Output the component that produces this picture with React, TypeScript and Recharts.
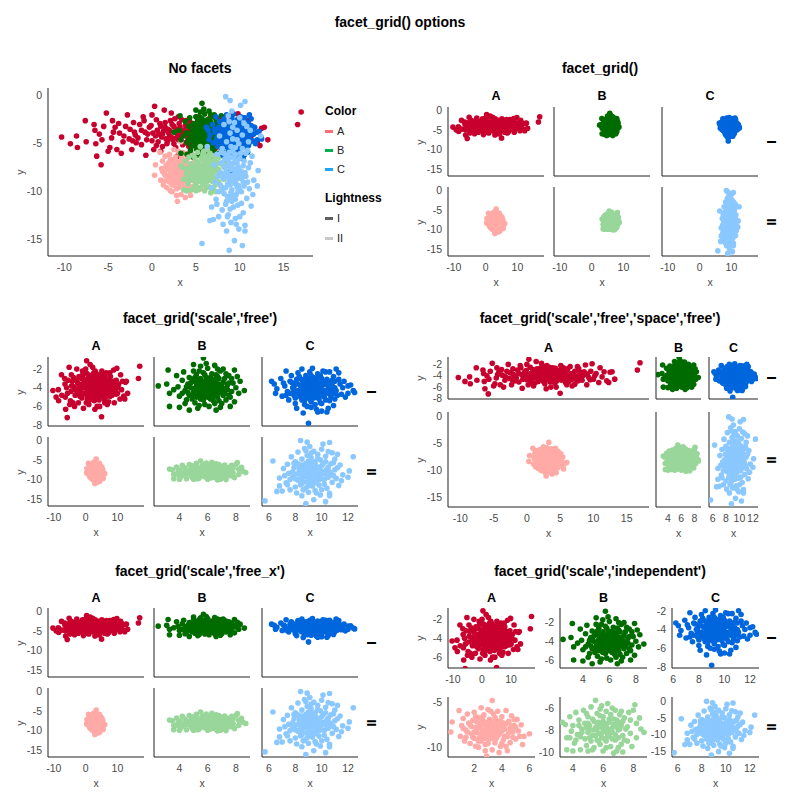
import React from 'react';
import { ScatterChart, Scatter, XAxis, YAxis } from 'recharts';

// Group A, lightness I
const A1: number[][] = [
  [-10.3, -4.3], [-9.3, -5.0], [-8.6, -4.2], [-8.5, -5.4], [-7.6, -2.6], [-7.5, -4.8], [-6.6, -3.0], [-6.5, -3.6],
  [-6.3, -6.3], [-6.4, -5.0], [-6.0, -4.0], [-5.8, -7.2], [-5.7, -4.6], [-5.5, -3.2], [-5.2, -1.8], [-5.0, -5.8],
  [-4.8, -5.4], [-4.6, -4.4], [-4.5, -2.6], [-4.2, -3.3], [-4.0, -5.6], [-3.7, -3.9], [-3.5, -6.0], [-3.3, -4.8],
  [-3.0, -3.2], [-2.8, -2.0], [-2.6, -4.5], [-2.3, -5.6], [-2.1, -2.8], [-2.0, -3.8], [-1.6, -4.4], [-1.4, -3.0],
  [-1.2, -5.1], [-0.9, -2.6], [-0.7, -6.2], [-0.5, -4.0], [-0.3, -3.3], [0.0, -4.7], [0.2, -5.6], [0.3, -1.1],
  [0.5, -2.5], [0.8, -4.0], [1.0, -3.2], [1.2, -5.3], [1.3, -3.7], [1.5, -2.8], [1.6, -4.5], [1.8, -3.5],
  [2.0, -4.2], [2.2, -1.8], [2.3, -3.0], [2.5, -5.0], [2.6, -3.8], [2.8, -4.4], [3.0, -2.2], [3.1, -4.0],
  [3.2, -3.3], [3.4, -4.8], [3.6, -6.0], [3.7, -3.6], [3.9, -2.6], [4.0, -4.2], [4.2, -5.3], [4.4, -3.1],
  [4.5, -3.9], [4.8, -4.6], [5.0, -7.1], [5.1, -2.2], [5.3, -3.5], [5.5, -4.3], [5.8, -5.2], [6.0, -3.0],
  [6.2, -4.0], [6.5, -2.4], [6.7, -4.7], [7.0, -3.6], [7.2, -5.5], [7.5, -4.1], [7.8, -2.8], [8.0, -3.4],
  [8.3, -4.8], [8.5, -3.9], [8.8, -2.1], [9.0, -5.6], [9.3, -4.3], [9.6, -3.2], [9.8, -1.9], [10.0, -4.6],
  [10.4, -3.6], [10.8, -5.2], [11.0, -2.6], [11.3, -4.2], [11.6, -3.3], [12.0, -4.9], [12.3, -5.2], [12.5, -3.4],
  [12.8, -3.3], [13.2, -4.6], [16.6, -3.0], [17.0, -1.7], [0.6, -3.6], [1.1, -4.3], [1.9, -3.9], [2.4, -4.6],
  [2.9, -3.5], [3.3, -4.3], [3.8, -4.9], [4.3, -3.7], [4.7, -4.1], [5.2, -3.9], [5.7, -3.3], [6.4, -4.4],
  [-0.8, -3.8], [-1.8, -4.9], [0.4, -4.2], [1.4, -1.5], [6.8, -5.8], [9.1, -3.7], [-3.8, -2.9], [7.7, -4.9],
  [-2.5, -3.5], [-1.9, -4.1], [-1.2, -3.6], [-0.6, -4.6], [-0.1, -3.1], [0.1, -3.9], [0.7, -4.8], [0.9, -2.9],
  [1.2, -4.0], [1.5, -3.3], [1.7, -5.0], [2.0, -3.6], [2.1, -2.6], [2.3, -4.4], [2.5, -3.2], [2.7, -5.4],
  [2.8, -3.9], [3.0, -4.6], [3.1, -2.9], [3.3, -3.8], [3.5, -5.1], [3.6, -4.1], [3.8, -3.1], [4.0, -3.7],
  [4.1, -4.5], [4.3, -2.7], [4.5, -4.9], [4.6, -3.4], [4.9, -4.3], [5.0, -3.0], [5.2, -4.8], [5.4, -3.6],
  [5.6, -4.5], [5.9, -3.9], [6.1, -2.8], [6.3, -5.0], [6.6, -3.6], [6.9, -4.3], [7.2, -3.2], [7.4, -4.6],
  [7.9, -3.9], [8.2, -4.4], [8.6, -3.3], [9.5, -4.7], [10.2, -4.0], [-3.2, -4.2], [-4.4, -3.8], [-2.2, -4.7],
  [0.5, -5.2], [1.8, -4.7], [2.6, -2.4], [3.4, -2.5], [5.5, -2.6], [6.0, -5.6], [4.4, -6.0], [-1.0, -2.2],
  [0.0, -2.0], [7.6, -2.4], [1.0, -5.8], [2.9, -6.3],
];

// Group B, lightness I
const B1: number[][] = [
  [2.5, -3.8], [3.1, -3.6], [3.2, -2.1], [3.3, -4.6], [3.3, -6.0], [3.8, -2.7], [3.9, -3.9], [4.0, -4.9],
  [4.0, -6.1], [4.2, -3.2], [4.3, -2.3], [4.4, -4.3], [4.5, -5.3], [4.6, -3.6], [4.7, -6.4], [4.7, -2.9],
  [4.8, -4.0], [4.9, -4.8], [5.0, -1.5], [5.0, -3.3], [5.1, -5.6], [5.1, -4.4], [5.2, -2.6], [5.2, -3.8],
  [5.3, -4.9], [5.3, -6.2], [5.4, -3.1], [5.4, -4.2], [5.5, -1.7], [5.5, -5.2], [5.6, -3.6], [5.6, -4.6],
  [5.7, -0.8], [5.7, -2.4], [5.7, -4.0], [5.8, -5.8], [5.8, -3.3], [5.9, -4.4], [5.9, -2.9], [6.0, -5.0],
  [6.0, -3.8], [6.0, -1.9], [6.1, -4.2], [6.1, -6.0], [6.2, -3.5], [6.2, -4.8], [6.3, -2.5], [6.3, -3.9],
  [6.4, -5.4], [6.4, -4.4], [6.5, -3.2], [6.5, -1.6], [6.6, -4.0], [6.6, -6.4], [6.7, -2.8], [6.7, -5.0],
  [6.8, -3.6], [6.8, -4.5], [6.9, -2.2], [7.0, -5.7], [7.0, -3.9], [7.1, -4.8], [7.2, -3.0], [7.3, -5.3],
  [7.3, -2.5], [7.4, -4.2], [7.5, -3.5], [7.6, -5.0], [7.7, -4.4], [7.8, -3.5], [7.9, -2.1], [7.9, -5.5],
  [8.1, -2.8], [8.2, -4.6], [8.3, -3.3], [8.6, -4.3], [4.9, -3.1], [5.3, -3.9], [5.6, -5.0], [6.1, -3.0],
  [6.4, -4.9], [6.9, -4.1], [5.8, -4.7], [6.3, -3.4], [5.4, -2.2], [4.4, -5.7], [7.1, -2.0], [7.6, -6.0],
  [5.0, -4.1], [5.5, -3.4], [6.0, -4.5], [6.5, -3.7], [5.2, -4.6], [6.2, -4.1], [4.6, -4.5], [7.2, -4.5],
  [4.8, -3.5], [5.0, -4.5], [5.1, -2.9], [5.2, -4.1], [5.3, -3.4], [5.4, -4.7], [5.5, -3.0], [5.5, -4.0],
  [5.6, -4.3], [5.7, -3.5], [5.7, -5.3], [5.8, -3.9], [5.8, -2.6], [5.9, -4.9], [6.0, -3.4], [6.0, -4.2],
  [6.1, -4.7], [6.1, -3.6], [6.2, -2.9], [6.2, -5.2], [6.3, -4.4], [6.4, -3.1], [6.4, -3.8], [6.5, -4.6],
  [6.6, -3.5], [6.6, -2.6], [6.7, -4.2], [6.8, -5.4], [6.8, -3.0], [6.9, -3.8], [7.0, -4.5], [7.1, -3.4],
  [7.2, -4.1], [7.4, -3.7], [7.5, -4.8], [4.5, -3.9], [4.7, -4.8], [4.9, -5.2], [5.2, -5.0], [6.5, -5.7],
  [5.9, -1.4], [6.7, -2.0], [4.2, -4.6], [7.7, -3.0], [8.0, -4.0], [5.4, -5.9], [6.9, -6.1], [3.6, -4.2],
  [5.0, -2.2], [7.5, -2.7],
];

// Group C, lightness I
const C1: number[][] = [
  [6.2, -3.3], [6.4, -3.6], [6.5, -4.6], [6.6, -4.1], [6.9, -3.0], [7.0, -4.9], [7.2, -3.8], [7.3, -2.2],
  [7.4, -4.4], [7.5, -5.3], [7.6, -3.3], [7.7, -2.7], [7.8, -4.0], [7.9, -4.8], [8.0, -3.5], [8.0, -5.7],
  [8.1, -6.2], [8.2, -2.4], [8.2, -4.3], [8.3, -3.0], [8.4, -5.0], [8.4, -3.8], [8.5, -2.0], [8.5, -4.6],
  [8.6, -6.7], [8.6, -3.4], [8.7, -4.1], [8.7, -5.4], [8.8, -2.7], [8.8, -3.7], [8.9, -4.4], [8.9, -6.0],
  [9.0, -7.8], [9.0, -3.2], [9.0, -4.9], [9.1, -2.3], [9.1, -4.0], [9.2, -5.5], [9.2, -3.6], [9.3, -1.9],
  [9.3, -4.6], [9.4, -2.9], [9.4, -5.1], [9.5, -3.9], [9.5, -4.3], [9.6, -6.3], [9.6, -3.3], [9.7, -6.6],
  [9.7, -2.5], [9.8, -4.7], [9.8, -3.8], [9.9, -5.6], [10.0, -6.5], [10.0, -3.0], [10.0, -4.2], [10.1, -2.2],
  [10.2, -5.0], [10.2, -3.5], [10.3, -2.3], [10.3, -4.5], [10.4, -6.6], [10.5, -3.9], [10.6, -2.3], [10.6, -5.4],
  [10.7, -4.3], [10.8, -3.2], [10.9, -5.9], [11.0, -4.0], [11.1, -2.0], [11.2, -4.8], [11.3, -2.4], [11.4, -3.6],
  [11.5, -4.7], [11.7, -3.3], [12.0, -3.8], [12.2, -3.7], [12.4, -4.3], [12.5, -4.5], [8.3, -4.7], [8.9, -3.0],
  [9.4, -4.0], [9.9, -4.4], [10.4, -3.1], [8.6, -4.8], [9.2, -2.7], [7.9, -3.9], [10.9, -4.6], [9.6, -5.0],
  [8.1, -4.5], [8.8, -5.1], [9.5, -3.5], [10.1, -3.7], [10.6, -4.1], [9.0, -4.2], [7.6, -4.6], [11.0, -3.3],
  [8.2, -3.6], [8.4, -4.4], [8.5, -3.1], [8.6, -4.0], [8.7, -3.3], [8.8, -4.6], [8.9, -3.6], [9.0, -4.5],
  [9.1, -3.4], [9.1, -5.2], [9.2, -4.2], [9.3, -3.1], [9.3, -4.8], [9.4, -3.7], [9.5, -4.6], [9.6, -4.0],
  [9.7, -3.0], [9.7, -4.4], [9.8, -5.2], [9.9, -3.5], [10.0, -4.8], [10.1, -3.3], [10.2, -4.3], [10.3, -5.3],
  [10.4, -3.6], [10.5, -4.6], [10.6, -3.4], [10.7, -5.0], [10.8, -3.8], [11.0, -5.2], [11.1, -4.3], [11.3, -3.1],
  [7.7, -3.4], [7.9, -4.3], [8.0, -5.1], [8.3, -2.8], [8.7, -5.8], [9.5, -5.8], [10.0, -5.7], [7.3, -4.8],
  [8.1, -3.1], [9.9, -2.7], [10.9, -2.8], [11.6, -4.0], [8.5, -5.3], [9.2, -6.1], [10.5, -6.2], [7.1, -3.5],
  [12.0, -4.6], [11.8, -5.0],
];

// Group A, lightness II
const A2: number[][] = [
  [0.3, -8.3], [0.4, -7.2], [0.9, -5.9], [1.0, -8.8], [1.1, -7.6], [1.2, -6.8], [1.3, -9.3], [1.4, -8.1],
  [1.5, -6.3], [1.6, -7.3], [1.7, -9.6], [1.8, -8.5], [1.9, -7.0], [2.0, -6.1], [2.0, -9.0], [2.1, -7.8],
  [2.2, -8.4], [2.3, -10.0], [2.3, -6.7], [2.4, -7.4], [2.5, -9.3], [2.5, -5.6], [2.6, -8.1], [2.7, -6.4],
  [2.7, -8.8], [2.8, -7.2], [2.8, -9.7], [2.9, -11.0], [2.9, -7.8], [3.0, -5.8], [3.0, -8.5], [3.1, -6.9],
  [3.1, -9.1], [3.2, -7.5], [3.3, -4.8], [3.3, -10.3], [3.3, -8.2], [3.4, -6.3], [3.5, -7.9], [3.5, -9.5],
  [3.6, -7.0], [3.7, -8.7], [3.7, -6.0], [3.8, -7.6], [3.9, -9.9], [3.9, -8.3], [4.0, -6.6], [4.1, -9.2],
  [4.1, -7.3], [4.2, -8.0], [4.3, -5.9], [4.4, -8.8], [4.4, -10.4], [4.5, -7.1], [4.6, -9.5], [4.7, -6.5],
  [4.8, -8.3], [4.9, -7.6], [5.0, -9.1], [5.1, -6.9], [5.3, -8.8], [5.4, -7.5], [5.5, -9.7], [5.6, -8.8],
  [6.0, -8.5], [3.0, -7.3], [2.4, -8.9], [3.6, -8.3], [2.1, -6.6], [4.0, -9.6], [1.8, -7.7], [4.6, -7.9],
  [3.4, -9.0], [2.6, -7.0], [3.9, -7.1], [1.4, -8.9], [5.2, -8.2], [2.9, -8.1], [3.2, -8.7], [2.2, -7.2],
  [2.2, -8.0], [2.4, -7.7], [2.5, -8.6], [2.6, -7.5], [2.7, -8.3], [2.8, -9.0], [2.9, -7.4], [3.0, -8.0],
  [3.1, -8.8], [3.2, -7.1], [3.3, -7.7], [3.4, -8.5], [3.5, -7.3], [3.6, -9.0], [3.7, -7.8], [3.8, -8.6],
  [3.9, -7.5], [4.0, -8.2], [4.1, -7.9], [4.2, -8.8], [4.3, -7.4], [4.5, -8.4], [4.7, -7.6], [2.0, -8.3],
  [1.9, -8.9], [1.7, -7.5], [1.5, -8.3], [2.3, -9.3], [3.0, -9.6], [3.5, -6.7], [2.6, -6.6], [4.3, -9.9],
  [4.8, -8.9], [5.0, -7.8], [3.2, -6.0], [2.1, -9.9], [1.2, -7.9], [4.9, -6.9], [2.8, -10.4], [3.8, -10.6],
];

// Group B, lightness II
const B2: number[][] = [
  [3.3, -7.3], [3.5, -7.5], [3.6, -8.7], [3.6, -9.8], [3.8, -6.8], [3.9, -8.1], [4.0, -7.6], [4.1, -9.2],
  [4.2, -6.4], [4.3, -8.4], [4.4, -7.1], [4.5, -9.8], [4.6, -7.9], [4.7, -6.2], [4.8, -8.8], [4.8, -7.4],
  [4.9, -9.4], [5.0, -6.8], [5.0, -8.2], [5.1, -7.6], [5.2, -5.9], [5.2, -9.0], [5.3, -8.5], [5.3, -7.0],
  [5.4, -9.6], [5.5, -5.3], [5.5, -7.8], [5.6, -6.5], [5.6, -8.9], [5.7, -7.3], [5.7, -8.3], [5.8, -9.3],
  [5.8, -6.1], [5.9, -7.7], [5.9, -8.7], [6.0, -6.8], [6.0, -9.9], [6.1, -7.4], [6.1, -8.1], [6.2, -6.3],
  [6.2, -9.0], [6.3, -5.6], [6.3, -7.9], [6.4, -8.6], [6.4, -7.0], [6.5, -9.5], [6.5, -6.6], [6.6, -8.2],
  [6.7, -10.1], [6.7, -7.5], [6.8, -6.2], [6.8, -8.9], [6.9, -9.9], [6.9, -7.1], [7.0, -8.0], [7.1, -6.6],
  [7.2, -9.3], [7.2, -7.6], [7.3, -8.5], [7.4, -6.9], [7.5, -7.9], [7.6, -9.0], [7.7, -6.4], [7.8, -8.3],
  [8.0, -6.2], [8.1, -5.7], [8.2, -7.4], [8.5, -7.9], [8.7, -8.2], [5.4, -8.0], [6.6, -7.8], [5.0, -9.9],
  [7.3, -10.0], [6.0, -7.2], [4.5, -8.6], [7.9, -9.5], [5.6, -7.6], [6.3, -8.4], [4.9, -7.8], [7.0, -7.3],
  [5.0, -7.4], [5.1, -8.7], [5.2, -8.0], [5.4, -7.2], [5.5, -8.5], [5.6, -7.9], [5.7, -9.0], [5.8, -7.6],
  [5.9, -8.3], [6.0, -7.9], [6.1, -8.8], [6.2, -7.6], [6.3, -8.2], [6.4, -7.3], [6.5, -8.0], [6.6, -8.8],
  [6.7, -7.0], [6.8, -8.4], [6.9, -7.7], [7.0, -8.7], [7.1, -7.9], [7.3, -7.2], [7.4, -8.9], [7.6, -7.7],
  [4.6, -8.2], [4.4, -7.6], [4.2, -8.9], [4.9, -6.5], [5.8, -6.7], [6.6, -6.0], [7.2, -6.3], [5.3, -9.8],
  [6.2, -9.6], [7.8, -7.1], [8.2, -8.7], [3.8, -8.7], [4.0, -9.9], [7.0, -9.6], [5.9, -5.8], [8.4, -6.9],
];

// Group C, lightness II
const C2: number[][] = [
  [5.7, -15.4], [6.3, -5.3], [6.6, -13.0], [6.8, -9.6], [7.0, -12.9], [7.1, -7.2], [7.3, -10.8], [7.4, -11.3],
  [7.4, -6.1], [7.5, -8.4], [7.6, -12.6], [7.7, -4.2], [7.8, -9.3], [7.9, -7.0], [8.0, -11.9], [8.0, -5.5],
  [8.1, -13.4], [8.1, -8.6], [8.2, -3.0], [8.2, -10.2], [8.3, -6.6], [8.4, -0.1], [8.4, -8.0], [8.5, -14.1],
  [8.5, -11.0], [8.5, -4.8], [8.6, -9.2], [8.6, -7.3], [8.7, -2.1], [8.7, -12.4], [8.8, -16.1], [8.8, -5.9],
  [8.8, -8.9], [8.9, -0.5], [8.9, -10.6], [8.9, -3.9], [9.0, -7.7], [9.0, -13.2], [9.0, -6.4], [9.1, -9.8],
  [9.1, -1.6], [9.2, -8.3], [9.2, -4.5], [9.3, -11.6], [9.3, -7.0], [9.4, -15.1], [9.4, -9.1], [9.4, -2.8],
  [9.5, -5.4], [9.5, -12.8], [9.5, -8.0], [9.6, -10.3], [9.6, -6.7], [9.7, -3.6], [9.7, -9.5], [9.8, -7.4],
  [9.8, -11.4], [9.9, -5.0], [9.9, -13.9], [10.0, -8.6], [10.0, -2.3], [10.1, -1.0], [10.1, -6.0], [10.2, -10.0],
  [10.2, -7.9], [10.3, -15.6], [10.3, -4.1], [10.4, -9.0], [10.4, -12.2], [10.5, -6.8], [10.6, -0.6], [10.6, -13.5],
  [10.6, -14.1], [10.7, -8.4], [10.8, -3.2], [10.8, -10.7], [10.9, -5.7], [11.0, -7.5], [11.1, -9.7], [11.2, -3.6],
  [11.3, -11.5], [11.4, -6.3], [11.6, -8.8], [12.1, -7.8], [12.4, -4.2], [8.3, -8.4], [9.0, -8.9], [9.7, -7.0],
  [10.3, -8.5], [8.7, -6.8], [9.3, -10.4], [9.9, -9.4], [9.2, -5.8], [8.9, -11.8], [8.6, -8.1], [9.6, -8.7],
  [8.3, -7.5], [8.4, -9.6], [8.5, -6.3], [8.6, -10.5], [8.7, -8.5], [8.8, -7.0], [8.9, -9.3], [9.0, -5.3],
  [9.0, -10.1], [9.1, -7.3], [9.1, -11.0], [9.2, -9.0], [9.3, -6.4], [9.3, -8.6], [9.4, -7.7], [9.5, -10.8],
  [9.5, -6.1], [9.6, -9.2], [9.7, -8.2], [9.7, -4.6], [9.8, -10.0], [9.9, -7.7], [10.0, -6.5], [10.0, -9.8],
  [10.1, -8.1], [10.2, -11.2], [10.3, -5.5], [10.4, -7.3], [10.5, -9.4], [10.6, -8.0], [10.7, -6.0], [10.9, -9.0],
  [11.0, -4.8], [7.8, -8.0], [7.6, -10.0], [7.9, -5.9], [8.0, -9.8], [8.2, -6.0], [8.4, -11.3], [11.2, -7.0],
  [11.5, -10.3], [7.2, -9.0], [9.2, -3.3], [8.8, -2.7], [10.5, -2.9], [9.6, -13.4], [8.6, -12.6], [10.0, -12.6],
  [6.8, -11.6], [12.0, -9.4],
];

const COLORS = { A1: '#c8002e', B1: '#006c00', C1: '#0066dd', A2: '#ffaaa6', B2: '#98d69a', C2: '#8ac8ff' };
const LEGEND_COLOR = [['A', '#ff6e78'], ['B', '#00b050'], ['C', '#1aa6ff']];
const LEGEND_LIGHT = [['I', '#606060'], ['II', '#c8c8c8']];
const COLS = ['A', 'B', 'C'];
const ROWS = ['I', 'II'];

const XT_ALL = [-10, -5, 0, 5, 10, 15];
const XT_FAC = [-10, 0, 10];
const XT_B = [4, 6, 8];
const XT_C = [6, 8, 10, 12];
const XT_A2 = [2, 4, 6];
const YT_ALL = [0, -5, -10, -15];
const YT_I = [-2, -4, -6, -8];
const YT_IA = [-2, -4, -6];
const YT_A2 = [-5, -10];
const YT_B2 = [-6, -8, -10];

const XD_ALL: [number, number] = [-11.85, 18.35];
const XD_B: [number, number] = [2.2, 9.0];
const XD_C: [number, number] = [5.47, 12.76];
const YD_ALL: [number, number] = [-16.7, 0.8];
const YD_I: [number, number] = [-8.1, -0.7];

const FONT = '"Liberation Sans", Arial, Helvetica, sans-serif';
const TICK_STYLE = { fontSize: 10.5, fill: '#4a4a4a', fontFamily: FONT };
const R = 2.8;

type G = { data: number[][]; color: string };
const G_A1: G = { data: A1, color: COLORS.A1 };
const G_B1: G = { data: B1, color: COLORS.B1 };
const G_C1: G = { data: C1, color: COLORS.C1 };
const G_A2: G = { data: A2, color: COLORS.A2 };
const G_B2: G = { data: B2, color: COLORS.B2 };
const G_C2: G = { data: C2, color: COLORS.C2 };
const ROW_GROUPS: G[][] = [[G_A1, G_B1, G_C1], [G_A2, G_B2, G_C2]];

function Facet(p: {
  L: number; T: number; W: number; H: number;
  xd: [number, number]; yd: [number, number]; xt: number[]; yt: number[];
  showX: boolean; showY: boolean; groups: G[];
}) {
  const padL = 40, padT = 6, padR = 6, padB = 24;
  return (
    <div style={{ position: 'absolute', left: p.L - padL, top: p.T - padT }}>
      <ScatterChart width={p.W + padL + padR} height={p.H + padT + padB}
        margin={{ top: padT, right: padR, bottom: 0, left: 0 }}>
        <XAxis type="number" dataKey="x" domain={p.xd} ticks={p.xt} allowDataOverflow interval={0}
          height={padB} tickLine={false} axisLine={{ stroke: '#222', strokeWidth: 1 }}
          tick={p.showX ? TICK_STYLE : false} />
        <YAxis type="number" dataKey="y" domain={p.yd} ticks={p.yt} allowDataOverflow interval={0}
          width={padL} tickLine={false} tickSize={4} axisLine={{ stroke: '#222', strokeWidth: 1 }}
          tick={p.showY ? TICK_STYLE : false} />
        {p.groups.map((g, i) => (
          <Scatter key={i} data={g.data.map(([x, y]) => ({ x, y }))} fill={g.color} isAnimationActive={false}
            shape={(s: any) => <circle cx={s.cx} cy={s.cy} r={R} fill={g.color} />} />
        ))}
      </ScatterChart>
    </div>
  );
}

function Txt(p: { x: number; y: number; s?: number; b?: boolean; c?: string; r?: number; left?: boolean; children: React.ReactNode }) {
  return (
    <div style={{
      position: 'absolute', left: p.x, top: p.y,
      transform: `translate(${p.left ? '0' : '-50%'},-50%) rotate(${p.r || 0}deg)`,
      fontSize: p.s || 10.5, fontWeight: p.b ? 'bold' : 'normal', color: p.c || '#4a4a4a',
      fontFamily: FONT, whiteSpace: 'nowrap', lineHeight: 1,
    }}>{p.children}</div>
  );
}

type Cell = { L: number; W: number; xd: [number, number]; xt: number[] };
type RowDef = { T: number; H: number; yd: [number, number]; yt: number[] };

function Grid(p: { title: string; tx: number; ty: number; cols: Cell[]; rows: RowDef[]; hy: number; rowLabelX: number; showAllX?: boolean; yLabelX: number; xLabelY: number; cellOverride?: (r: number, c: number) => Partial<Cell & RowDef> }) {
  const els: React.ReactNode[] = [];
  els.push(<Txt key="t" x={p.tx} y={p.ty} s={14} b c="#000">{p.title}</Txt>);
  p.cols.forEach((c, ci) => {
    els.push(<Txt key={'h' + ci} x={c.L + c.W / 2} y={p.hy} s={12.5} b c="#000">{COLS[ci]}</Txt>);
    els.push(<Txt key={'xl' + ci} x={c.L + c.W / 2} y={p.xLabelY}>x</Txt>);
  });
  p.rows.forEach((r, ri) => {
    els.push(<Txt key={'r' + ri} x={p.rowLabelX} y={r.T + r.H / 2} s={13} b c="#000" r={-90}>{ROWS[ri]}</Txt>);
    els.push(<Txt key={'yl' + ri} x={p.yLabelX} y={r.T + r.H / 2} r={-90}>y</Txt>);
    p.cols.forEach((c, ci) => {
      const o = p.cellOverride ? p.cellOverride(ri, ci) : {};
      const cell = { ...c, ...r, ...o };
      els.push(
        <Facet key={'f' + ri + ci} L={cell.L} T={cell.T} W={cell.W} H={cell.H} xd={cell.xd} yd={cell.yd}
          xt={cell.xt} yt={cell.yt} showX={p.showAllX || ri === p.rows.length - 1}
          showY={(o as any).yt !== undefined || ci === 0} groups={[ROW_GROUPS[ri][ci]]} />
      );
    });
  });
  return <>{els}</>;
}

export default function App() {
  const Lc = [48, 154, 262];
  const Rc = [448, 554, 662];
  const W = 96;
  const sameCols = (xs: number[]): Cell[] => xs.map((L) => ({ L, W, xd: XD_ALL, xt: XT_FAC }));
  const freeCols = (xs: number[]): Cell[] => [
    { L: xs[0], W, xd: XD_ALL, xt: XT_FAC },
    { L: xs[1], W, xd: XD_B, xt: XT_B },
    { L: xs[2], W, xd: XD_C, xt: XT_C },
  ];
  const indep: Record<string, Partial<Cell & RowDef>> = {
    '00': { xd: [-11.7, 18.2], yd: [-7.15, -0.8], xt: XT_FAC, yt: YT_IA },
    '01': { xd: [2.27, 8.84], yd: [-6.85, -0.45], xt: XT_B, yt: YT_IA },
    '02': { xd: [5.9, 12.7], yd: [-8.1, -1.7], xt: XT_C, yt: YT_I },
    '10': { xd: [0.1, 6.4], yd: [-11.1, -4.4], xt: XT_A2, yt: YT_A2 },
    '11': { xd: [3.15, 8.9], yd: [-10.45, -5.0], xt: XT_B, yt: YT_B2 },
    '12': { xd: [5.53, 12.76], yd: [-16.7, 1.2], xt: XT_C, yt: YT_ALL },
  };

  return (
    <div style={{ position: 'absolute', left: 0, top: 0, width: 800, height: 800, background: '#fff', fontFamily: FONT }}>
      <Txt x={400} y={22} s={14} b c="#000">facet_grid() options</Txt>

      {/* Panel 1: No facets */}
      <Txt x={200} y={68} s={14} b c="#000">No facets</Txt>
      <Facet L={48} T={88} W={265} H={168} xd={XD_ALL} yd={YD_ALL} xt={XT_ALL} yt={YT_ALL} showX showY
        groups={[G_A1, G_A2, G_B1, G_B2, G_C1, G_C2]} />
      <Txt x={180} y={282}>x</Txt>
      <Txt x={20} y={172} r={-90}>y</Txt>
      <Txt x={325} y={111} s={12} b c="#000" left>Color</Txt>
      {LEGEND_COLOR.map(([k, c], i) => (
        <React.Fragment key={k}>
          <div style={{ position: 'absolute', left: 325, top: 130 + i * 19, width: 8, height: 2.5, background: c }} />
          <Txt x={337} y={131 + i * 19} s={11} c="#222" left>{k}</Txt>
        </React.Fragment>
      ))}
      <Txt x={325} y={198} s={12} b c="#000" left>Lightness</Txt>
      {LEGEND_LIGHT.map(([k, c], i) => (
        <React.Fragment key={k}>
          <div style={{ position: 'absolute', left: 325, top: 217 + i * 20, width: 8, height: 2.5, background: c }} />
          <Txt x={337} y={218 + i * 20} s={11} c="#222" left>{k}</Txt>
        </React.Fragment>
      ))}

      {/* Panel 2: facet_grid() */}
      <Grid title="facet_grid()" tx={600} ty={68} hy={96} rowLabelX={771} yLabelX={420} xLabelY={282}
        cols={sameCols(Rc)}
        rows={[{ T: 107, H: 69, yd: YD_ALL, yt: YT_ALL }, { T: 187, H: 69, yd: YD_ALL, yt: YT_ALL }]} />

      {/* Panel 3: scale free */}
      <Grid title="facet_grid('scale','free')" tx={200} ty={318} hy={346} rowLabelX={371} yLabelX={20} xLabelY={532}
        cols={freeCols(Lc)}
        rows={[{ T: 357, H: 69, yd: YD_I, yt: YT_I }, { T: 437, H: 69, yd: YD_ALL, yt: YT_ALL }]} />

      {/* Panel 4: scale free, space free */}
      <Grid title="facet_grid('scale','free','space','free')" tx={600} ty={318} hy={348} rowLabelX={771} yLabelX={420} xLabelY={532.5}
        cols={[
          { L: 448, W: 201, xd: XD_ALL, xt: XT_ALL },
          { L: 656, W: 45, xd: XD_B, xt: XT_B },
          { L: 709, W: 49, xd: XD_C, xt: XT_C },
        ]}
        rows={[{ T: 357, H: 42, yd: YD_I, yt: YT_I }, { T: 412, H: 95, yd: YD_ALL, yt: YT_ALL }]} />

      {/* Panel 5: scale free_x */}
      <Grid title="facet_grid('scale','free_x')" tx={200} ty={571} hy={598} rowLabelX={371} yLabelX={20} xLabelY={783}
        cols={freeCols(Lc)}
        rows={[{ T: 608, H: 69, yd: YD_ALL, yt: YT_ALL }, { T: 688, H: 69, yd: YD_ALL, yt: YT_ALL }]} />

      {/* Panel 6: scale independent */}
      <Grid title="facet_grid('scale','independent')" tx={600} ty={571} hy={598} rowLabelX={771} yLabelX={420} xLabelY={783}
        showAllX
        cols={[
          { L: 448, W: 87, xd: XD_ALL, xt: XT_FAC },
          { L: 560, W: 87, xd: XD_B, xt: XT_B },
          { L: 672, W: 87, xd: XD_C, xt: XT_C },
        ]}
        rows={[{ T: 608, H: 60, yd: YD_I, yt: YT_I }, { T: 697, H: 60, yd: YD_ALL, yt: YT_ALL }]}
        cellOverride={(r, c) => indep['' + r + c]} />
    </div>
  );
}
